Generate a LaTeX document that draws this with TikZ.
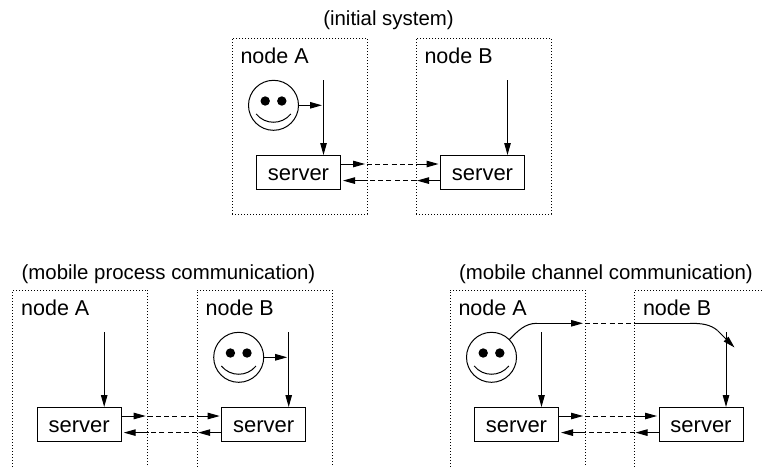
\documentclass[tikz,border=0pt]{standalone}
\usepackage{fontspec}
\setmainfont{Liberation Sans}
\usetikzlibrary{arrows.meta, positioning, calc}
\newcommand{\site}[3][]{
  \node(#2Box)[
    siteBox,
    #1
  ] {};
  \node(#2Label)[below right=9.5pt and 8pt of #2Box.north west, labelText] {#3};
  \node(#2Server)[below right=117pt and 24.5pt of #2Box.north west, serverBox] {server};
  \coordinate[below right=42pt and 91.5pt of #2Box.north west] (#2Feed);
  \draw[flow] (#2Feed) -- (#2Feed |- #2Server.north);
}
\newcommand{\smiley}[2]{
  \node(#1)[faceBox] at ($(#2)+(-50,25.3)$) {};
  \fill ($(#1)+(-8.3,-4.3)$) circle (4.7pt);
  \fill ($(#1)+(8.3,-4.3)$) circle (4.7pt);
  \draw ($(#1)+(-17.3,8.7)$) .. controls +(9,11) and +(-9,11) .. ($(#1)+(17.3,8.7)$);
}
\newcommand{\channel}[2]{
  \coordinate (#1Out) at ($(#1Server.east)+(0,-8)$);
  \coordinate (#1In) at ($(#1Server.east)+(0,8.6)$);
  \draw[flow, shorten >=2pt] (#1Out) -- (#1Box.east |- #1Out);
  \draw[gap] (#1Box.east |- #1Out) -- (#2Box.west |- #1Out);
  \draw[flow, shorten >=2pt] (#2Box.west |- #1Out) -- (#2Server.west |- #1Out);
  \draw[flow, shorten >=1pt] (#2Server.west |- #1In) -- (#2Box.west |- #1In);
  \draw[gap] (#2Box.west |- #1In) -- (#1Box.east |- #1In);
  \draw[flow, shorten >=2.5pt] (#1Box.east |- #1In) -- (#1In);
}
\tikzset{
  siteBox/.style = {
    draw,
    line width=1pt,
    dash pattern=on 1pt off 2pt,
    anchor=north west,
    minimum width=135pt,
    minimum height=176pt,
    inner sep=0pt,
    outer sep=0pt,
  },
  lowBox/.style = {
    minimum height=184pt,
  },
  labelText/.style = {
    inner sep=0pt,
    anchor=north west,
    font=\fontsize{21.5}{25}\selectfont,
  },
  serverBox/.style = {
    draw,
    line width=1pt,
    anchor=north west,
    minimum width=84pt,
    minimum height=34pt,
    inner sep=0pt,
    outer sep=0pt,
    text height=16pt,
    text depth=0pt,
    font=\fontsize{22}{26}\selectfont,
  },
  faceBox/.style = {
    draw,
    circle,
    line width=1pt,
    minimum size=50pt,
    inner sep=0pt,
    outer sep=0pt,
  },
  flow/.style = {
    line width=1pt,
    -{Triangle[length=12pt, width=6.5pt]},
  },
  gap/.style = {
    line width=1pt,
    dash pattern=on 5pt off 3.2pt,
  },
  captionText/.style = {
    font=\fontsize{20.4}{24}\selectfont,
  },
}

\begin{document}
\begin{tikzpicture}[x=1pt, y=-1pt, line width=1pt]

\useasboundingbox (0,0) rectangle (762,466);
\clip (0,0) rectangle (762,466);

% initial system
\node(topCaption)[captionText] at (388.5,20) {(initial system)};
\site[at={(232,38)}]{topA}{node A}
\site[right=49pt of topABox]{topB}{node B}
\smiley{topFace}{topAFeed}
\draw[flow, shorten >=1.5pt] (topFace) -- (topFace -| topAFeed);
\channel{topA}{topB}

% process moves
\node(procCaption)[captionText] at (168.5,274) {(mobile process communication)};
\site[lowBox, at={(12.7,290)}]{procA}{node A}
\site[lowBox, right=49.5pt of procABox]{procB}{node B}
\smiley{procFace}{procBFeed}
\draw[flow, shorten >=1.5pt] (procFace) -- (procFace -| procBFeed);
\channel{procA}{procB}

% channel moves
\node(chanCaption)[captionText] at (606,274) {(mobile channel communication)};
\site[lowBox, at={(450,290)}]{chanA}{node A}
\site[lowBox, right=49.5pt of chanABox]{chanB}{node B}
\smiley{chanFace}{chanAFeed}
\channel{chanA}{chanB}

\coordinate (chanBendA) at (537,323.3);
\coordinate (chanBendB) at (690,323.3);
\coordinate (chanSlope) at (717.5,330.5);
\coordinate (chanLand) at (734.5,347.5);
\draw (chanFace.45) .. controls +(9,-9) and +(-12,0) .. (chanBendA);
\draw[flow, shorten >=2pt] (chanBendA) -- (chanABox.east |- chanBendA);
\draw[gap] (chanABox.east |- chanBendA) -- (chanBBox.west |- chanBendA);
\draw (chanBBox.west |- chanBendA) -- (chanBendB);
\draw (chanBendB) .. controls +(12,0) and +(-7,-6) .. (chanSlope);
\draw[flow] (chanSlope) -- (chanLand);

\end{tikzpicture}
\end{document}
